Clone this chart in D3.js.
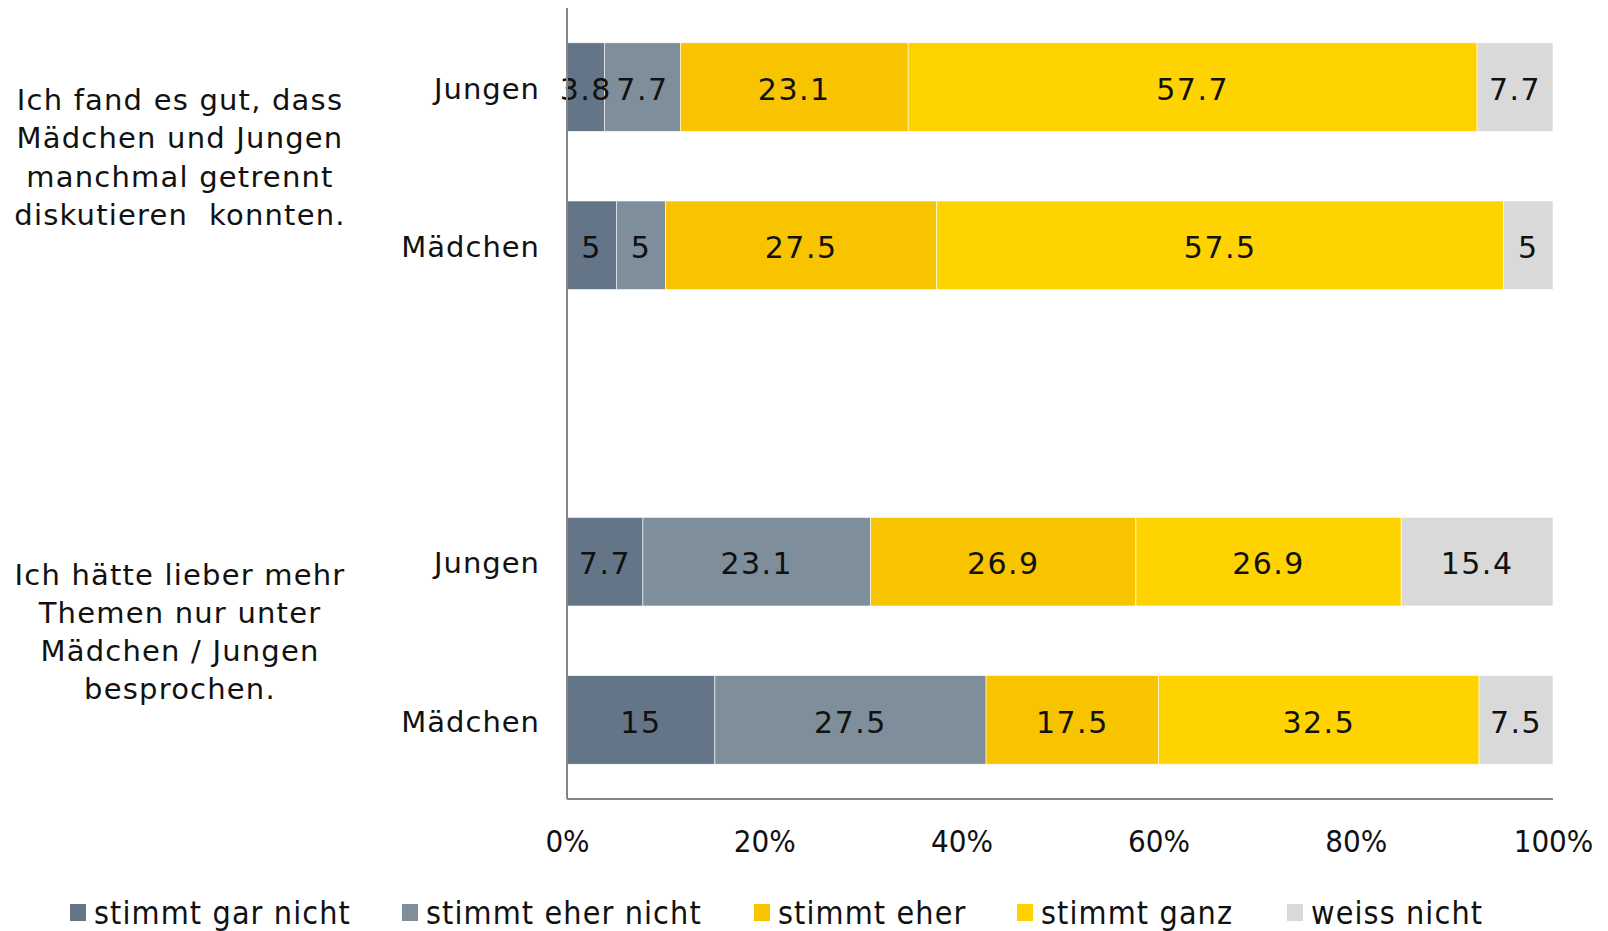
<!DOCTYPE html>
<meta charset="utf-8">
<style>
  body { margin: 0; background: #fff; }
  text { font-family: "DejaVu Sans", sans-serif; fill: #111; }
  .narrow { font-family: "Liberation Sans Narrow", "DejaVu Sans Condensed", "DejaVu Sans", sans-serif; font-stretch: condensed; }
</style>
<body>
<div id="chart"></div>
<script src="https://cdn.jsdelivr.net/npm/d3@7"></script>
<script>
// series (answer categories)
var series = ["stimmt gar nicht", "stimmt eher nicht", "stimmt eher", "stimmt ganz", "weiss nicht"];
var colors = ["#647587", "#7e8e9a", "#f8c400", "#ffd300", "#d9d9d9"];

// rows, top to bottom (an empty slot separates the two questions)
var rows = ["q1j", "q1m", "gap", "q2j", "q2m"];
var rowLabels = ["Jungen", "Mädchen", "", "Jungen", "Mädchen"];

var q1Jungen  = [3.8, 7.7, 23.1, 57.7, 7.7];
var q1Maedchen = [5, 5, 27.5, 57.5, 5];
var q2Jungen  = [7.7, 23.1, 26.9, 26.9, 15.4];
var q2Maedchen = [15, 27.5, 17.5, 32.5, 7.5];

var questions = [
  ["Ich fand es gut, dass", "Mädchen und Jungen", "manchmal getrennt", "diskutieren  konnten."],
  ["Ich hätte lieber mehr", "Themen nur unter", "Mädchen / Jungen", "besprochen."]
];

var ticks = [0, 20, 40, 60, 80, 100];

var data = [
  {row: "q1j", values: q1Jungen},
  {row: "q1m", values: q1Maedchen},
  {row: "q2j", values: q2Jungen},
  {row: "q2m", values: q2Maedchen}
];

var W = 1608, H = 931;
var margin = {top: 8, right: 55, bottom: 132, left: 567};
var width = W - margin.left - margin.right,
    height = H - margin.top - margin.bottom;

var svg = d3.select("#chart").append("svg")
    .attr("width", W).attr("height", H);
var g = svg.append("g")
    .attr("transform", "translate(" + margin.left + "," + margin.top + ")");

var x = d3.scaleLinear().domain([0, 100]).range([0, width]);
var y = d3.scaleBand().domain(rows).range([0, height]).paddingInner(0.44).paddingOuter(0.22);

// bars
data.forEach(function(d) {
  var acc = 0;
  var segs = d.values.map(function(v, i) {
    var s = {x0: acc, x1: acc + v, v: v, i: i};
    acc += v;
    return s;
  });
  var row = g.append("g");
  row.selectAll("rect").data(segs).enter().append("rect")
    .attr("x", function(s) { return x(s.x0); })
    .attr("width", function(s) { return x(s.x1) - x(s.x0); })
    .attr("y", y(d.row))
    .attr("height", y.bandwidth())
    .attr("fill", function(s) { return colors[s.i]; })
    .attr("stroke", "#fff").attr("stroke-width", 0.6);
  row.selectAll("text").data(segs).enter().append("text")
    .attr("x", function(s) { return x((s.x0 + s.x1) / 2); })
    .attr("y", y(d.row) + y.bandwidth() / 2)
    .attr("dy", "0.42em")
    .attr("text-anchor", "middle")
    .style("font-size", "30px")
    .style("letter-spacing", "1.5px")
    .text(function(s) { return s.v; });
});

// axis lines
g.append("line").attr("x1", 0).attr("x2", 0).attr("y1", 0).attr("y2", height)
  .attr("stroke", "#868686").attr("stroke-width", 2);
g.append("line").attr("x1", 0).attr("x2", width).attr("y1", height).attr("y2", height)
  .attr("stroke", "#868686").attr("stroke-width", 2);

// row labels
g.selectAll(".rowlab").data(rows.filter(function(r, i) { return rowLabels[i]; })).enter()
  .append("text")
  .attr("x", -27)
  .attr("y", function(r) { return y(r) + y.bandwidth() / 2; })
  .attr("dy", "0.4em")
  .attr("text-anchor", "end")
  .style("font-size", "29px")
  .style("letter-spacing", "1px")
  .text(function(r) { return rowLabels[rows.indexOf(r)]; });

// x axis tick labels
var xAxis = g.append("g")
  .attr("transform", "translate(0," + height + ")")
  .call(d3.axisBottom(x).tickValues(ticks).tickSize(0).tickPadding(31)
    .tickFormat(function(d) { return d + "%"; }));
xAxis.select(".domain").remove();
xAxis.selectAll("text").attr("class", "narrow")
  .style("font-size", "31px").attr("fill", "#111");

// question labels
var qCenters = [(y("q1j") + y("q1m") + y.bandwidth()) / 2, (y("q2j") + y("q2m") + y.bandwidth()) / 2];
questions.forEach(function(lines, qi) {
  var t = svg.append("text")
    .attr("x", 180)
    .attr("text-anchor", "middle")
    .attr("xml:space", "preserve")
    .style("white-space", "pre")
    .style("font-size", "29px")
    .style("letter-spacing", "1.2px");
  var lh = 38.3;
  var y0 = margin.top + qCenters[qi] - lh * (lines.length - 1) / 2 - 9;
  lines.forEach(function(l, li) {
    t.append("tspan").attr("x", 180).attr("y", y0 + li * lh).attr("dy", "0.35em").text(l);
  });
});

// legend
var legendX = [70, 402, 754, 1017, 1287];
var lg = svg.append("g").attr("transform", "translate(0,913)");
series.forEach(function(s, i) {
  lg.append("rect").attr("x", legendX[i]).attr("y", -9).attr("width", 16).attr("height", 17)
    .attr("fill", colors[i]);
  lg.append("text").attr("class", "narrow").attr("x", legendX[i] + 24).attr("y", 0)
    .attr("dy", "0.35em").style("font-size", "32px").style("letter-spacing", "1.1px").text(s);
});
</script>
</body>
